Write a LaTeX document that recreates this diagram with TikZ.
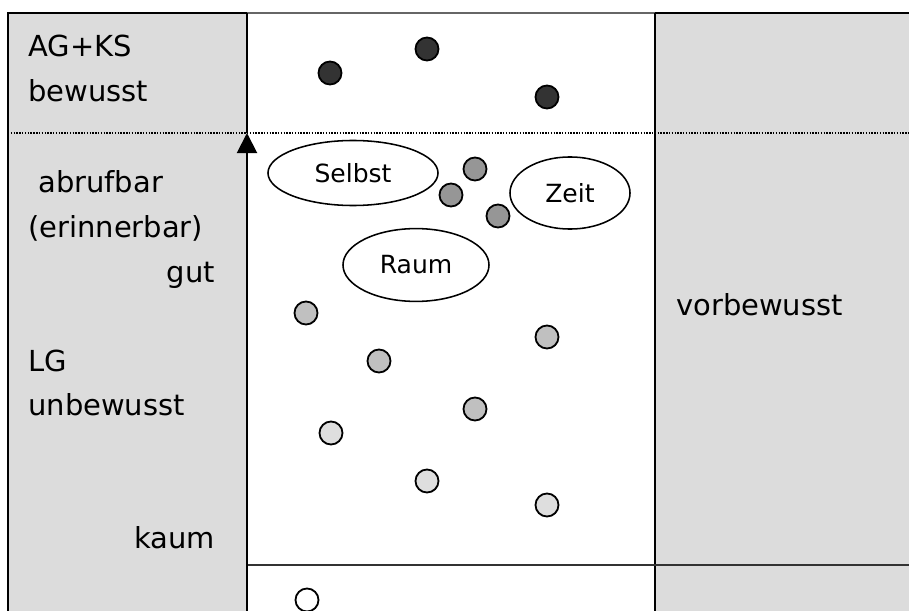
\documentclass[tikz,border=0pt]{standalone}
\usepackage{fontspec}
\setmainfont{DejaVu Sans}
\usetikzlibrary{arrows.meta,positioning,shapes.geometric}

\definecolor{zonegray}{HTML}{DCDCDC}
\definecolor{dotdark}{HTML}{333333}
\definecolor{dotmid}{HTML}{969696}
\definecolor{dotsoft}{HTML}{C0C0C0}
\definecolor{dotpale}{HTML}{DEDEDE}

\tikzset{
    rim/.style={line width=1.4pt},
    dot/.style={circle, draw, line width=1.3pt, minimum size=5.75mm, inner sep=0pt},
    bubble/.style={ellipse, draw, line width=1.1pt, inner sep=0pt,
        font=\fontsize{17.8}{20}\selectfont},
    lbl/.style={inner sep=0pt, font=\fontsize{20.6}{24}\selectfont},
}

\begin{document}
\begin{tikzpicture}[x=0.025cm, y=-0.025cm]
    \clip (0,0) rectangle (909,611);
    \fill[white] (0,0) rectangle (909,611);

    % Side columns
    \fill[zonegray] (8,13) rectangle (247,611);
    \fill[zonegray] (655,13) rectangle (909,611);
    \draw[rim] (8,611) -- (8,13) -- (247,13);
    \draw[rim, gray!80!black] (247,13) -- (655,13);
    \draw[rim] (655,13) -- (909,13);
    \draw[rim] (655,13) -- (655,611);

    % Borders between levels
    \draw[line width=0.9pt, dash pattern=on 1pt off 1pt] (8,133) -- (909,133);
    \draw[rim, black!80] (247,565) -- (909,565);

    % Arrow up to the dotted line
    \draw[rim] (247,13) -- (247,133);
    \draw[rim, -{Triangle[width=5mm, length=5mm]}] (247,611) -- (247,133);

    % Labels left
    \node[lbl, anchor=base west] (agks) at (28,57) {AG+KS};
    \node[lbl, anchor=base west] (bewusst) at (28,102) {bewusst};
    \node[lbl, anchor=base west] (abrufbar) at (38,192) {abrufbar};
    \node[lbl, anchor=base west] (erinnerbar) at (28,237) {(erinnerbar)};
    \node[lbl, anchor=base east] (gut) at (215,282) {gut};
    \node[lbl, anchor=base west] (lg) at (28,371) {LG};
    \node[lbl, anchor=base west] (unbewusst) at (28,415) {unbewusst};
    \node[lbl, anchor=base east] (kaum) at (215,548) {kaum};

    % Label right
    \node[lbl, anchor=base west] (vorbewusst) at (676,315) {vorbewusst};

    % Ellipses
    \node[bubble, minimum width=4.25cm, minimum height=1.625cm] (selbst) at (353,173) {Selbst};
    \node[bubble, minimum width=3cm, minimum height=1.8cm] (zeit) at (570,193) {Zeit};
    \node[bubble, minimum width=3.65cm, minimum height=1.82cm] (raum) at (416,265) {Raum};

    % Dots, darker = more aware
    \foreach \x/\y [count=\i] in {330/73, 427/49, 547/97}
        \node[dot, fill=dotdark] (aware\i) at (\x,\y) {};
    \foreach \x/\y [count=\i] in {475/169, 451/195, 498/216}
        \node[dot, fill=dotmid] (recall\i) at (\x,\y) {};
    \foreach \x/\y [count=\i] in {306/313, 547/337, 379/361, 475/409}
        \node[dot, fill=dotsoft] (fade\i) at (\x,\y) {};
    \foreach \x/\y [count=\i] in {331/433, 427/481, 547/505}
        \node[dot, fill=dotpale] (faint\i) at (\x,\y) {};
    \node[dot, fill=white] (lost) at (307,600) {};
\end{tikzpicture}
\end{document}
